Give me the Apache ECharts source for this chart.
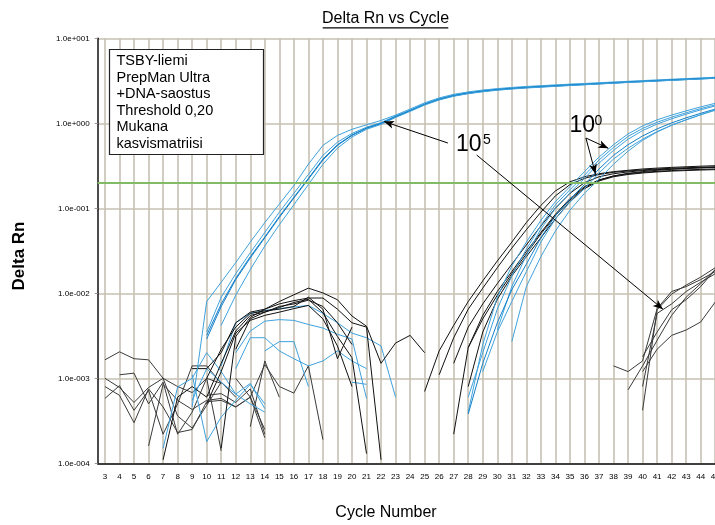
<!DOCTYPE html>
<html>
<head>
<meta charset="utf-8">
<script src="https://cdn.jsdelivr.net/npm/echarts@6/dist/echarts.min.js"></script>
<style>
  html, body { margin: 0; padding: 0; background: #fff; }
  #chart { width: 715px; height: 525px; }
</style>
</head>
<body>
<div id="chart"></div>
<script>
// Cycle ticks along the x axis
const xTickValues = [3, 4, 5, 6, 7, 8, 9, 10, 11, 12, 13, 14, 15, 16, 17, 18, 19, 20, 21, 22, 23, 24,
  25, 26, 27, 28, 29, 30, 31, 32, 33, 34, 35, 36, 37, 38, 39, 40, 41, 42, 43, 44, 45];
// Decade labels of the log axis, from 1e-4 up to 1e+1
const yTickLabels = ['1.0e-004', '1.0e-003', '1.0e-002', '1.0e-001', '1.0e+000', '1.0e+001'];

const threshold = 0.20;

// Each curve: first cycle with a reading, then Delta Rn per cycle
const blueEarly = [
  { from: 9, v: [4.6e-4, 8.0e-3, 0.0135, 0.023, 0.04, 0.068, 0.112, 0.185, 0.33, 0.55, 0.72, 0.85, 0.96, 1.08,
    1.25, 1.47, 1.74, 1.99, 2.19, 2.34, 2.46, 2.56, 2.64, 2.71, 2.77, 2.83, 2.89, 2.94, 3.0, 3.06, 3.12, 3.18, 3.24, 3.3, 3.36, 3.42, 3.48] },
  { from: 10, v: [3.5e-3, 9.0e-3, 0.017, 0.03, 0.052, 0.09, 0.15, 0.25, 0.42, 0.6, 0.76, 0.9, 1.02,
    1.22, 1.43, 1.7, 1.95, 2.15, 2.3, 2.42, 2.52, 2.6, 2.67, 2.73, 2.79, 2.85, 2.9, 2.96, 3.02, 3.08, 3.14, 3.2, 3.26, 3.32, 3.38, 3.44] },
  { from: 10, v: [3.2e-3, 7.5e-3, 0.015, 0.027, 0.046, 0.08, 0.135, 0.225, 0.38, 0.56, 0.73, 0.88, 1.0,
    1.2, 1.41, 1.67, 1.92, 2.12, 2.27, 2.39, 2.49, 2.57, 2.64, 2.7, 2.76, 2.82, 2.87, 2.93, 2.99, 3.05, 3.11, 3.17, 3.23, 3.29, 3.35, 3.41], dark: true },
  { from: 10, v: [2.9e-3, 7.0e-3, 0.0145, 0.026, 0.045, 0.078, 0.132, 0.22, 0.37, 0.55, 0.72, 0.87, 0.99,
    1.19, 1.4, 1.66, 1.9, 2.1, 2.25, 2.37, 2.47, 2.55, 2.62, 2.68, 2.74, 2.8, 2.85, 2.91, 2.97, 3.03, 3.09, 3.15, 3.21, 3.27, 3.33, 3.39], dark: true },
  { from: 11, v: [4.2e-3, 9.5e-3, 0.019, 0.036, 0.064, 0.11, 0.19, 0.33, 0.51, 0.69, 0.85, 0.97,
    1.17, 1.38, 1.64, 1.88, 2.08, 2.23, 2.35, 2.45, 2.53, 2.6, 2.66, 2.72, 2.78, 2.84, 2.9, 2.96, 3.02, 3.08, 3.14, 3.2, 3.26, 3.32, 3.38] }
];

const blueLate = [
  { from: 28, v: [4e-4, 2.5e-3, 9e-3, 0.021, 0.04, 0.072, 0.12, 0.18, 0.27, 0.4, 0.56, 0.75, 0.93, 1.1, 1.25, 1.4, 1.56, 1.72] },
  { from: 28, v: [6e-4, 2e-3, 6.5e-3, 0.016, 0.033, 0.063, 0.11, 0.165, 0.245, 0.37, 0.52, 0.7, 0.87, 1.03, 1.18, 1.33, 1.49, 1.65] },
  { from: 30, v: [3.7e-3, 0.012, 0.028, 0.057, 0.1, 0.152, 0.225, 0.34, 0.48, 0.65, 0.82, 0.98, 1.13, 1.28, 1.44, 1.6] },
  { from: 31, v: [2.7e-3, 0.012, 0.027, 0.054, 0.095, 0.15, 0.22, 0.33, 0.47, 0.63, 0.79, 0.95, 1.1, 1.26, 1.42] },
  { from: 28, v: [3.8e-4, 1.5e-3, 4.5e-3, 0.011, 0.022, 0.045, 0.082, 0.128, 0.19, 0.29, 0.42, 0.56, 0.71, 0.86, 1.01, 1.16, 1.31, 1.47], dark: true },
  { from: 29, v: [1.2e-3, 3.5e-3, 8e-3, 0.018, 0.04, 0.075, 0.118, 0.17, 0.26, 0.38, 0.51, 0.65, 0.8, 0.95, 1.1, 1.26, 1.45] }
];

const blackLate = [
  { from: 25, v: [7e-4, 2.1e-3, 4.2e-3, 8e-3, 0.014, 0.024, 0.04, 0.068, 0.108, 0.16, 0.205, 0.235, 0.255, 0.27, 0.28, 0.29, 0.297, 0.303, 0.308, 0.313, 0.317] },
  { from: 26, v: [1.1e-3, 3.0e-3, 6.5e-3, 0.0115, 0.02, 0.034, 0.056, 0.09, 0.14, 0.19, 0.225, 0.25, 0.265, 0.275, 0.283, 0.29, 0.296, 0.3, 0.304, 0.307] },
  { from: 27, v: [1.5e-3, 4e-3, 7.5e-3, 0.013, 0.022, 0.037, 0.062, 0.1, 0.15, 0.2, 0.235, 0.255, 0.268, 0.278, 0.285, 0.29, 0.295, 0.299, 0.302] },
  { from: 27, v: [2.2e-4, 2.3e-3, 5.5e-3, 0.0105, 0.018, 0.031, 0.052, 0.085, 0.13, 0.18, 0.215, 0.24, 0.255, 0.265, 0.272, 0.278, 0.283, 0.287, 0.29] },
  { from: 28, v: [8e-4, 3.5e-3, 8.5e-3, 0.016, 0.027, 0.045, 0.075, 0.12, 0.17, 0.21, 0.235, 0.25, 0.26, 0.268, 0.274, 0.278, 0.282, 0.285] },
  { from: 28, v: [2.3e-3, 5e-3, 0.0095, 0.017, 0.029, 0.05, 0.082, 0.125, 0.175, 0.215, 0.24, 0.258, 0.27, 0.28, 0.288, 0.294, 0.3, 0.305] }
];

const blackTail = [
  { from: 38, v: [1.4e-3, 1.2e-3, 1.6e-3, 6.6e-3, 0.0105, 0.012, 0.0145, 0.018] },
  { from: 39, v: [7.3e-4, 1.4e-3, 2.8e-3, 5.5e-3, 9e-3, 0.013, 0.019] },
  { from: 40, v: [4.2e-4, 6.4e-3, 0.0098, 0.0125, 0.0155, 0.02] },
  { from: 40, v: [8e-4, 5.8e-3, 7.5e-3, 0.0105, 0.0135, 0.017] },
  { from: 40, v: [1.8e-3, 3.5e-3, 6.4e-3, 8.4e-3, 0.012, 0.019] },
  { from: 40, v: [1.2e-3, 2.2e-3, 3.2e-3, 3.7e-3, 4.6e-3, 7.9e-3] }
];

const blackNoise = [
  { from: 3, v: [1.65e-3, 2.05e-3, 1.7e-3, 1.65e-3, 1.0e-3, 8.0e-4, 6.8e-4, 1.0e-3, 8.7e-4] },
  { from: 3, v: [1.0e-3, 7.8e-4, 5.2e-4, 7.8e-4, 1.0e-3, 3.6e-4, 2.6e-4, 4.8e-4, 9.0e-4, 6.0e-4] },
  { from: 3, v: [8.0e-4, 6.3e-4, 3.0e-4, 7.5e-4, 4.6e-4, 2.3e-4, 2.5e-4, 5.3e-4, 5.5e-4, 4.6e-4, 6.0e-4, 2.5e-4] },
  { from: 4, v: [1.1e-3, 1.15e-3, 5.0e-4, 9.0e-4, 2.2e-4, 4.0e-4, 1.0e-3, 1.4e-4] },
  { from: 3, v: [5.8e-4, 8.2e-4, 4.2e-4, 7.2e-4, 2.2e-4, 5.0e-4, 1.4e-3, 1.4e-3, 8.7e-4] },
  { from: 6, v: [1.6e-4, 8.5e-4, 5.5e-4, 4.3e-4, 5.5e-4, 5.8e-4, 4.6e-4, 6.0e-4, 2.0e-4] },
  { from: 13, v: [2.7e-4, 1.6e-3, 6.0e-4] },
  { from: 12, v: [1.0e-3, 6.0e-4, 1.45e-3, 8.0e-4, 6.7e-4, 1.4e-3, 1.9e-4] },
  { from: 10, v: [6.3e-4, 6.6e-4, 5.2e-4, 7.5e-4, 2.2e-4] }
];

const blackArches = [
  { from: 11, v: [1.5e-4, 3.1e-3, 5.2e-3, 6.5e-3, 8.0e-3, 9.6e-3, 1.15e-2, 1.01e-2, 8.4e-3, 5.4e-3, 4.1e-3, 1.5e-3, 2.6e-3, 3.2e-3, 2.0e-3] },
  { from: 9, v: [1.3e-3, 1.3e-3, 2.0e-3, 4.5e-3, 6.0e-3, 6.5e-3, 7.5e-3, 8.2e-3, 8.8e-3, 8.8e-3, 6.5e-3, 4.5e-3, 4.0e-3, 1.1e-4] },
  { from: 7, v: [1.1e-4, 6.0e-4, 8.0e-4, 6.0e-4, 1.5e-3, 3.6e-3, 5.5e-3, 6.0e-3, 6.8e-3, 7.8e-3, 8.5e-3, 5.9e-3, 3.1e-3, 1.75e-3, 1.3e-4] },
  { from: 10, v: [1.0e-3, 2.2e-3, 4.0e-3, 5.8e-3, 6.2e-3, 6.5e-3, 7.0e-3, 9.0e-3, 6.5e-3, 1.7e-3, 4.0e-3] },
  { from: 12, v: [2.2e-3, 5.0e-3, 6.0e-3, 7.0e-3, 7.5e-3, 8.3e-3, 7.0e-3, 4.5e-3, 2.5e-3] },
  { from: 10, v: [5.0e-4, 1.2e-3, 3.4e-3, 4.8e-3, 5.5e-3, 6.0e-3, 6.6e-3, 7.2e-3, 5.0e-3, 2.4e-3, 8.0e-4] }
];

const blueNoise = [
  { from: 7, v: [1.5e-4, 7.9e-4, 1.0e-3, 2.0e-3, 1.2e-3, 6.5e-4, 8.7e-4, 4.4e-4] },
  { from: 9, v: [1.1e-3, 1.8e-4, 3.5e-4, 5.5e-4, 8.5e-4, 5.0e-4] },
  { from: 9, v: [5.5e-4, 1.3e-3, 9.0e-4, 6.5e-4, 5.0e-4, 4.0e-4] },
  { from: 11, v: [1.4e-3, 4.5e-3, 5.8e-3, 6.3e-3, 6.6e-3, 6.9e-3, 7.2e-3, 5.8e-3, 4.5e-3, 3.4e-3, 3.0e-3, 2.4e-3, 6.0e-4] },
  { from: 12, v: [2.0e-3, 3.6e-3, 4.7e-3, 4.9e-3, 4.8e-3, 4.3e-3, 3.9e-3, 3.3e-3, 2.9e-3, 5.8e-4] },
  { from: 12, v: [1.3e-3, 3.0e-3, 3.0e-3, 2.1e-3, 1.7e-3, 1.4e-3, 1.6e-3, 2.1e-3, 1.6e-3, 1.3e-3] },
  { from: 14, v: [2.1e-3, 2.7e-3, 2.7e-3, 8.0e-4] },
  { from: 20, v: [9.0e-4, 8.5e-4] }
];

// Pointer arrows [cycle, Delta Rn] from label to curve
const arrowNotes = [
  { from: [26.6, 0.586], to: [22.2, 1.05] },
  { from: [28.58, 0.424], to: [41.4, 0.0065] },
  { from: [36.1, 0.671], to: [37.64, 0.508] },
  { from: [36.1, 0.671], to: [36.76, 0.2535] }
];

const noteLines = ['TSBY-liemi', 'PrepMan Ultra', '+DNA-saostus', 'Threshold 0,20', 'Mukana', 'kasvismatriisi'];

const FONT = '"Liberation Sans", Arial, sans-serif';
const BLUE = '#3fa2dc';
const BLUE_DARK = '#1380c9';
const BLACK = '#111111';
const GREY = '#3a3a3a';

function toPoints(curve) {
  return curve.v.map((val, i) => [curve.from + i, val]);
}

function makeSeries(group, color, darkColor, width) {
  return group.map(c => ({
    type: 'line',
    data: toPoints(c),
    showSymbol: false,
    symbol: 'none',
    silent: true,
    animation: false,
    emphasis: { disabled: true },
    lineStyle: { width: width, color: c.dark ? darkColor : color }
  }));
}

const series = [].concat(
  makeSeries(blackNoise, GREY, GREY, 1),
  makeSeries(blueNoise, BLUE, BLUE, 1),
  makeSeries(blackArches, BLACK, BLACK, 1),
  makeSeries(blueEarly, BLUE, BLUE_DARK, 1),
  makeSeries(blackLate, BLACK, BLACK, 1),
  makeSeries(blueLate, BLUE, BLUE_DARK, 1),
  makeSeries(blackTail, GREY, GREY, 1)
);

// threshold line
series[0].markLine = {
  silent: true,
  animation: false,
  symbol: 'none',
  label: { show: false },
  lineStyle: { color: '#82bb66', width: 2, type: 'solid' },
  data: [{ yAxis: threshold }]
};

// annotation arrows
series[series.length - 1].markLine = {
  silent: true,
  animation: false,
  symbol: ['none', 'arrow'],
  symbolSize: [6, 10],
  label: { show: false },
  lineStyle: { color: '#000', width: 1, type: 'solid' },
  data: arrowNotes.map(a => [{ coord: a.from }, { coord: a.to }])
};

const chart = echarts.init(document.getElementById('chart'), null, { renderer: 'canvas' });

chart.setOption({
  animation: false,
  backgroundColor: '#ffffff',
  grid: {
    left: 97.7,
    top: 38.3,
    width: 624.8,
    height: 425,
    containLabel: false,
    outerBoundsMode: 'none'
  },
  xAxis: {
    type: 'value',
    min: 2.5,
    max: 45.5,
    axisLine: { show: true, onZero: false, lineStyle: { color: '#111', width: 1.5 } },
    axisTick: { show: false, customValues: xTickValues },
    axisLabel: {
      customValues: xTickValues,
      interval: 0,
      fontSize: 8,
      fontFamily: FONT,
      color: '#000',
      margin: 9
    },
    splitLine: { show: true, lineStyle: { color: '#c6c1b3', width: 1.6 } }
  },
  yAxis: {
    type: 'log',
    logBase: 10,
    min: 1e-4,
    max: 10,
    axisLine: { show: true, onZero: false, lineStyle: { color: '#111', width: 1.5 } },
    axisTick: { show: true, length: 3, lineStyle: { color: '#999' } },
    axisLabel: {
      fontSize: 8,
      fontFamily: FONT,
      color: '#000',
      margin: 8,
      formatter: function (v) {
        const e = Math.round(Math.log10(v));
        return yTickLabels[e + 4] || '';
      }
    },
    splitLine: { show: true, lineStyle: { color: '#c6c1b3', width: 1.6 } },
    minorTick: { show: false },
    minorSplitLine: { show: false }
  },
  graphic: [
    {
      type: 'text', x: 385.5, y: 18.5, silent: true,
      style: { text: 'Delta Rn vs Cycle', font: '16px ' + FONT, fill: '#000', align: 'center', verticalAlign: 'middle' }
    },
    {
      type: 'line', silent: true,
      shape: { x1: 322.7, y1: 27.8, x2: 448.3, y2: 27.8 },
      style: { stroke: '#000', lineWidth: 1.2 }
    },
    {
      type: 'text', x: 19.5, y: 256, rotation: Math.PI / 2, silent: true,
      style: { text: 'Delta Rn', font: 'bold 17px ' + FONT, fill: '#000', align: 'center', verticalAlign: 'middle' }
    },
    {
      type: 'text', x: 386, y: 513, silent: true,
      style: { text: 'Cycle Number', font: '16px ' + FONT, fill: '#000', align: 'center', verticalAlign: 'middle' }
    },
    {
      type: 'rect', silent: true, z: 10,
      shape: { x: 109.5, y: 49.5, width: 154, height: 105 },
      style: { fill: '#fff', stroke: '#222', lineWidth: 1.2 }
    },
    {
      type: 'text', x: 116.5, y: 52.7, silent: true, z: 11,
      style: { text: noteLines.join('\n'), font: '14.5px ' + FONT, lineHeight: 16.6, fill: '#000', align: 'left', verticalAlign: 'top' }
    },
    {
      type: 'text', x: 456, y: 144.5, silent: true, z: 11,
      style: { text: '10', font: '23px ' + FONT, fill: '#000', align: 'left', verticalAlign: 'middle' }
    },
    {
      type: 'text', x: 483, y: 140, silent: true, z: 11,
      style: { text: '5', font: '14px ' + FONT, fill: '#000', align: 'left', verticalAlign: 'middle' }
    },
    {
      type: 'text', x: 569.5, y: 125.5, silent: true, z: 11,
      style: { text: '10', font: '23px ' + FONT, fill: '#000', align: 'left', verticalAlign: 'middle' }
    },
    {
      type: 'text', x: 594.5, y: 121.5, silent: true, z: 11,
      style: { text: '0', font: '14px ' + FONT, fill: '#000', align: 'left', verticalAlign: 'middle' }
    }
  ],
  series: series
});
</script>
</body>
</html>
